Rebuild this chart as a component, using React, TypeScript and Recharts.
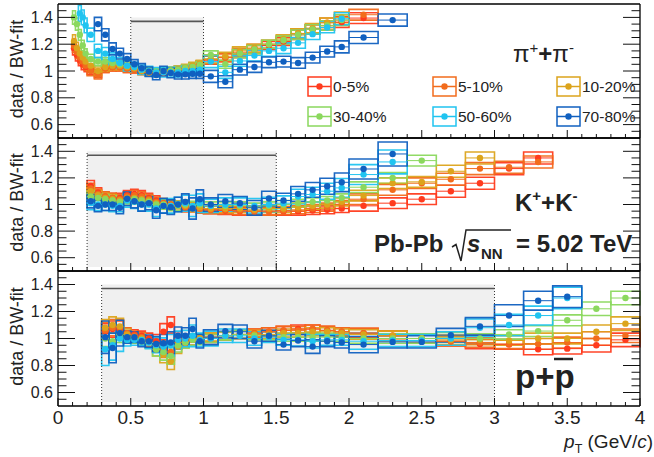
import React from "react";
import {
  ScatterChart,
  Scatter,
  XAxis,
  YAxis,
  ReferenceArea,
  ReferenceLine,
  ErrorBar,
} from "recharts";

const FONT = "'Liberation Sans', Arial, Helvetica, sans-serif";

const centralities = ["0-5%", "5-10%", "10-20%", "30-40%", "50-60%", "70-80%"];
const colors = ["#ff3b1e", "#f26c1c", "#dca41c", "#8bd85e", "#20c4f0", "#1060c0"];

const xTicks = [
  0, 0.1, 0.2, 0.3, 0.4, 0.5, 0.6, 0.7, 0.8, 0.9, 1, 1.1, 1.2, 1.3, 1.4, 1.5,
  1.6, 1.7, 1.8, 1.9, 2, 2.1, 2.2, 2.3, 2.4, 2.5, 2.6, 2.7, 2.8, 2.9, 3, 3.1,
  3.2, 3.3, 3.4, 3.5, 3.6, 3.7, 3.8, 3.9, 4,
];
const yTicks = [
  0.55, 0.6, 0.65, 0.7, 0.75, 0.8, 0.85, 0.9, 0.95, 1, 1.05, 1.1, 1.15, 1.2,
  1.25, 1.3, 1.35, 1.4, 1.45,
];

// ---- pions ----
const piEdges = [
  0.1, 0.12, 0.14, 0.16, 0.18, 0.2, 0.25, 0.3, 0.35, 0.4, 0.45, 0.5, 0.55, 0.6,
  0.65, 0.7, 0.75, 0.8, 0.85, 0.9, 0.95, 1.0, 1.1, 1.2, 1.3, 1.4, 1.5, 1.6, 1.7,
  1.8, 1.9, 2.0, 2.2, 2.4,
];
const pi0005 = [1.17, 1.12, 1.08, 1.05, 1.03, 1.01, 0.98, 1.02, 1.03, 1.03, 1.02, 1.01, 1.0, 0.99, 0.985, 0.99, 1.0, 1.01, 1.02, 1.03, 1.05, 1.08, 1.1, 1.13, 1.16, 1.19, 1.22, 1.27, 1.31, 1.34, 1.365, 1.395, null];
const pi0510 = [1.19, 1.14, 1.1, 1.07, 1.04, 1.0, 0.97, 1.02, 1.03, 1.03, 1.02, 1.01, 1.0, 0.99, 0.985, 0.99, 1.0, 1.01, 1.02, 1.035, 1.05, 1.085, 1.1, 1.14, 1.17, 1.2, 1.23, 1.28, 1.31, 1.36, 1.38, 1.42, null];
const pi1020 = [1.22, 1.17, 1.13, 1.1, 1.07, 1.04, 1.0, 1.03, 1.04, 1.04, 1.03, 1.02, 1.0, 0.99, 0.99, 0.995, 1.0, 1.01, 1.025, 1.04, 1.055, 1.09, 1.11, 1.15, 1.17, 1.2, 1.24, 1.28, 1.32, 1.36, 1.4, null, null];
const pi3040 = [1.4, 1.35, 1.27, 1.19, 1.13, 1.09, 1.07, 1.07, 1.06, 1.05, 1.04, 1.03, 1.01, 1.0, 0.995, 1.0, 1.005, 1.01, 1.02, 1.03, 1.045, 1.12, 1.05, 1.13, 1.16, 1.2, 1.23, 1.27, 1.31, 1.34, 1.38, null, null];
const pi5060 = [null, null, 1.43, 1.4, 1.34, 1.27, 1.15, 1.13, 1.09, 1.06, 1.04, 1.03, 1.01, 1.0, 0.99, 0.99, 0.99, 0.99, 1.0, 1.0, 1.01, 1.07, 0.99, 1.075, 1.115, 1.15, 1.17, 1.21, 1.275, 1.325, 1.39, null, null];
const pi7080 = [null, null, null, null, null, null, 1.35, 1.27, 1.165, 1.13, 1.09, 1.05, 1.02, 0.995, 0.97, 1.0, 0.985, 0.975, 0.975, 0.98, 0.98, 0.96, 0.92, 1.01, 1.03, 1.065, 1.07, 1.06, 1.1, 1.145, 1.18, 1.25, 1.38];
const piSysC = [0.05, 0.045, 0.04, 0.04, 0.035, 0.035, 0.03, 0.03, 0.03, 0.03, 0.03, 0.025, 0.025, 0.025, 0.025, 0.025, 0.025, 0.025, 0.025, 0.025, 0.025, 0.03, 0.03, 0.03, 0.03, 0.03, 0.03, 0.035, 0.035, 0.035, 0.04, 0.04, 0.04];
const piSysP = [0.06, 0.06, 0.06, 0.055, 0.055, 0.05, 0.05, 0.045, 0.045, 0.04, 0.04, 0.035, 0.035, 0.035, 0.035, 0.035, 0.035, 0.035, 0.035, 0.035, 0.035, 0.045, 0.045, 0.04, 0.04, 0.04, 0.04, 0.04, 0.04, 0.04, 0.045, 0.045, 0.045];

// ---- kaons ----
const kaEdges = [
  0.2, 0.25, 0.3, 0.35, 0.4, 0.45, 0.5, 0.55, 0.6, 0.65, 0.7, 0.75, 0.8, 0.85,
  0.9, 0.95, 1.0, 1.1, 1.2, 1.3, 1.4, 1.5, 1.6, 1.7, 1.8, 1.9, 2.0, 2.2, 2.4,
  2.6, 2.8, 3.0, 3.2, 3.4,
];
const ka0005 = [1.14, 1.09, 1.06, 1.05, 1.05, 1.07, 1.08, 1.07, 1.05, 1.03, 1.01, 1.0, 0.99, 0.98, 0.98, 0.97, 0.96, 0.955, 0.95, 0.95, 0.95, 0.95, 0.95, 0.955, 0.96, 0.97, 0.99, 1.01, 1.04, 1.1, 1.16, 1.27, 1.35];
const ka0510 = [1.12, 1.08, 1.06, 1.05, 1.04, 1.06, 1.07, 1.06, 1.04, 1.02, 1.01, 1.0, 0.99, 0.98, 0.98, 0.97, 0.96, 0.96, 0.955, 0.95, 0.95, 0.955, 0.96, 0.97, 0.98, 1.0, 1.04, 1.11, 1.16, 1.19, 1.27, 1.28, 1.32];
const ka1020 = [1.1, 1.07, 1.05, 1.04, 1.03, 1.05, 1.05, 1.04, 1.03, 1.01, 1.0, 0.99, 0.99, 0.99, 0.98, 0.98, 0.97, 0.97, 0.97, 0.96, 0.97, 0.97, 0.98, 0.99, 1.0, 1.02, 1.067, 1.16, 1.17, 1.25, 1.35, null, null];
const ka3040 = [1.06, 1.05, 1.04, 1.03, 1.02, 1.04, 1.04, 1.03, 1.02, 1.0, 1.0, 0.99, 0.99, 1.0, 0.99, 1.0, 0.99, 0.99, 0.99, 0.98, 0.99, 1.0, 1.01, 1.02, 1.03, 1.05, 1.13, 1.2, 1.33, null, null, null, null];
const ka5060 = [1.01, 1.0, 1.0, 0.99, 0.99, 1.03, 1.02, 1.0, 1.0, 0.97, 0.99, 0.99, 1.0, 1.01, 0.99, 1.01, 0.99, 1.0, 1.0, 0.99, 1.0, 1.01, 1.06, 1.075, 1.1, 1.125, 1.225, 1.32, null, null, null, null, null];
const ka7080 = [1.025, 0.99, 1.0, 1.0, 0.975, 1.043, 1.025, 1.0, 1.01, 0.957, 0.99, 0.98, 1.0, 1.02, 0.97, 1.04, 1.0, 1.025, 1.01, 0.975, 1.045, 1.03, 1.08, 1.11, 1.137, 1.167, 1.267, 1.38, null, null, null, null, null];
const kaSysC = [0.04, 0.035, 0.035, 0.035, 0.035, 0.035, 0.035, 0.035, 0.035, 0.035, 0.035, 0.035, 0.035, 0.035, 0.035, 0.035, 0.03, 0.03, 0.03, 0.03, 0.03, 0.03, 0.03, 0.03, 0.03, 0.03, 0.04, 0.04, 0.04, 0.045, 0.045, 0.045, 0.045];
const kaSysP = [0.05, 0.045, 0.045, 0.045, 0.045, 0.05, 0.05, 0.05, 0.05, 0.06, 0.055, 0.055, 0.055, 0.06, 0.08, 0.07, 0.05, 0.05, 0.05, 0.055, 0.055, 0.055, 0.055, 0.055, 0.06, 0.07, 0.075, 0.09, 0.06, 0.06, 0.06, 0.06, 0.06];

// ---- protons ----
const prEdges = [
  0.3, 0.35, 0.4, 0.45, 0.5, 0.55, 0.6, 0.65, 0.7, 0.75, 0.8, 0.85, 0.9, 0.95,
  1.0, 1.1, 1.2, 1.3, 1.4, 1.5, 1.6, 1.7, 1.8, 1.9, 2.0, 2.2, 2.4, 2.6, 2.8,
  3.0, 3.2, 3.4, 3.6, 3.8, 4.0,
];
const pr0005 = [1.05, 1.07, 1.07, 1.04, 1.03, 1.02, 1.0, 0.98, 1.05, 1.1, 1.0, 0.99, 0.99, 1.0, 1.0, 1.02, 1.03, 1.04, 1.05, 1.06, 1.07, 1.07, 1.06, 1.05, 1.04, 1.02, 1.0, 0.98, 0.96, 0.955, 0.92, 0.925, 0.95, 0.99];
const pr0510 = [1.06, 1.08, 1.08, 1.04, 1.02, 1.01, 0.98, 0.95, 0.92, 0.9, 0.97, 0.98, 0.99, 1.0, 1.01, 1.02, 1.03, 1.04, 1.05, 1.06, 1.06, 1.07, 1.06, 1.05, 1.04, 1.02, 1.0, 0.98, 0.97, 0.96, 0.96, 0.97, 1.0, 1.02];
const pr1020 = [1.08, 1.1, 1.09, 1.03, 1.01, 1.0, 0.97, 0.92, 0.88, 0.83, 0.94, 0.97, 0.99, 1.0, 1.01, 1.02, 1.03, 1.03, 1.03, 1.04, 1.04, 1.05, 1.05, 1.04, 1.03, 1.02, 1.0, 0.99, 0.99, 0.985, 1.0, 1.0, 1.05, 1.11];
const pr3040 = [1.0, 0.98, 1.03, 1.01, 1.0, 0.99, 0.97, 0.92, 0.9, 0.87, 0.95, 0.97, 0.99, 0.99, 1.0, 1.02, 1.03, 1.02, 1.02, 1.01, 1.01, 1.01, 1.01, 1.01, 1.0, 1.0, 1.0, 1.01, 1.0, 1.03, 1.055, 1.135, 1.22, 1.3];
const pr5060 = [0.92, 0.95, 1.0, 0.99, 0.99, 0.99, 0.97, 0.95, 0.94, 0.95, 0.99, 1.0, 1.02, 0.99, 1.0, 1.02, 1.02, 1.0, 1.01, 0.99, 0.99, 0.98, 0.99, 0.99, 0.98, 0.985, 0.985, 1.0, 1.08, 1.1, 1.17, 1.3, null, null];
const pr7080 = [1.01, 0.93, 1.04, 1.01, 1.01, 0.98, 0.98, 0.96, 0.965, 0.97, 1.02, 1.02, 1.07, 0.98, 1.01, 1.055, 1.05, 0.98, 1.02, 0.955, 0.985, 0.94, 0.98, 0.97, 0.955, 0.975, 0.975, 1.025, 1.09, 1.17, 1.28, 1.31, null, null];
const prSysC = [0.06, 0.06, 0.06, 0.04, 0.035, 0.035, 0.04, 0.05, 0.06, 0.06, 0.05, 0.04, 0.04, 0.035, 0.03, 0.03, 0.03, 0.03, 0.03, 0.03, 0.03, 0.03, 0.03, 0.03, 0.035, 0.035, 0.035, 0.035, 0.035, 0.035, 0.04, 0.04, 0.05, 0.05];
const prSysP = [0.12, 0.11, 0.095, 0.045, 0.04, 0.04, 0.045, 0.055, 0.065, 0.08, 0.065, 0.06, 0.08, 0.05, 0.055, 0.05, 0.05, 0.05, 0.04, 0.04, 0.045, 0.05, 0.04, 0.04, 0.06, 0.045, 0.045, 0.05, 0.065, 0.08, 0.07, 0.08, 0.06, 0.06];

// fit ranges (GeV/c)
const piFit = [0.5, 1.0];
const kaFit = [0.2, 1.5];
const prFit = [0.3, 3.0];

type Species = {
  edges: number[];
  series: (number | null)[][];
  sysC: number[];
  sysP: number[];
  fit: number[];
};

const species: Species[] = [
  { edges: piEdges, series: [pi0005, pi0510, pi1020, pi3040, pi5060, pi7080], sysC: piSysC, sysP: piSysP, fit: piFit },
  { edges: kaEdges, series: [ka0005, ka0510, ka1020, ka3040, ka5060, ka7080], sysC: kaSysC, sysP: kaSysP, fit: kaFit },
  { edges: prEdges, series: [pr0005, pr0510, pr1020, pr3040, pr5060, pr7080], sysC: prSysC, sysP: prSysP, fit: prFit },
];

const isStep = (v: number, per: number) => Math.abs(v * per - Math.round(v * per)) < 1e-6;

function LeftTick(props: any) {
  const { x, y, payload } = props;
  const v = payload.value;
  const major = isStep(v, 5);
  return (
    <g>
      <line x1={x} x2={x + (major ? 17 : 8.5)} y1={y} y2={y} stroke="#111" strokeWidth={1} />
      {major && (
        <text x={x - 5} y={y} textAnchor="end" dominantBaseline="central" fontSize={16} fill="#222" fontFamily={FONT}>
          {String(v)}
        </text>
      )}
    </g>
  );
}

function RightTick(props: any) {
  const { x, y, payload } = props;
  const major = isStep(payload.value, 5);
  return <line x1={x} x2={x - (major ? 17 : 8.5)} y1={y} y2={y} stroke="#111" strokeWidth={1} />;
}

function TopTick(props: any) {
  const { x, y, payload } = props;
  const major = isStep(payload.value, 2);
  return <line x1={x} x2={x} y1={y} y2={y + (major ? 8 : 4)} stroke="#111" strokeWidth={1} />;
}

function BottomTick(props: any) {
  const { x, y, payload, showLabels } = props;
  const v = payload.value;
  const major = isStep(v, 2);
  return (
    <g>
      <line x1={x} x2={x} y1={y} y2={y - (major ? 8 : 4)} stroke="#111" strokeWidth={1} />
      {showLabels && major && (
        <text x={x} y={y + 11} textAnchor="middle" dominantBaseline="central" fontSize={19} fill="#222" fontFamily={FONT}>
          {String(v)}
        </text>
      )}
    </g>
  );
}

const yTitle = (props: any) => {
  const vb = props.viewBox || {};
  const cx = 17;
  const cy = (vb.y ?? 0) + (vb.height ?? 0) / 2 - 2;
  return (
    <text x={cx} y={cy} transform={`rotate(-90 ${cx} ${cy})`} textAnchor="middle" dominantBaseline="central" fontSize={18} fill="#222" fontFamily={FONT}>
      data / BW-fit
    </text>
  );
};

function Panel({ sp, top, height, bottomAxis, showLabels }: { sp: Species; top: number; height: number; bottomAxis: number; showLabels: boolean }) {
  const bins = sp.edges.slice(0, -1).map((lo, i) => {
    const hi = sp.edges[i + 1];
    return { lo, hi, x: (lo + hi) / 2, ex: (hi - lo) / 2 };
  });
  const [f1, f2] = sp.fit;

  return (
    <div style={{ position: "absolute", left: 0, top, width: 654, height }}>
      <ScatterChart width={654} height={height} margin={{ top: 3, right: 13, bottom: 3, left: 0 }}>
        <XAxis xAxisId={0} type="number" dataKey="x" domain={[0, 4]} ticks={xTicks} interval={0} allowDataOverflow
          tick={<BottomTick showLabels={showLabels} />} tickLine={false} tickSize={0} tickMargin={0}
          axisLine={{ stroke: "#000", strokeWidth: 1.3 }} height={bottomAxis} />
        <XAxis xAxisId="t" orientation="top" type="number" domain={[0, 4]} ticks={xTicks} interval={0} allowDataOverflow
          tick={<TopTick />} tickLine={false} tickSize={0} tickMargin={0}
          axisLine={{ stroke: "#000", strokeWidth: 1.3 }} height={1} />
        <YAxis yAxisId={0} type="number" dataKey="y" domain={[0.5, 1.5]} ticks={yTicks} interval={0} allowDataOverflow
          tick={<LeftTick />} tickLine={false} tickSize={0} tickMargin={0}
          axisLine={{ stroke: "#000", strokeWidth: 1.3 }} width={58} label={yTitle} />
        <YAxis yAxisId="r" orientation="right" type="number" domain={[0.5, 1.5]} ticks={yTicks} interval={0} allowDataOverflow
          tick={<RightTick />} tickLine={false} tickSize={0} tickMargin={0}
          axisLine={{ stroke: "#000", strokeWidth: 1.3 }} width={1} />

        <ReferenceArea x1={f1} x2={f2} y1={0.53} y2={1.4} fill="#f0f0f0" fillOpacity={1} stroke="none" ifOverflow="visible" />
        <ReferenceLine segment={[{ x: f1, y: 0.5 }, { x: f1, y: 1.4 }]} stroke="#333" strokeDasharray="1 2" ifOverflow="visible" />
        <ReferenceLine segment={[{ x: f2, y: 0.5 }, { x: f2, y: 1.4 }]} stroke="#333" strokeDasharray="1 2" ifOverflow="visible" />
        <ReferenceLine segment={[{ x: f1, y: 1.37 }, { x: f2, y: 1.37 }]} stroke="#555" strokeWidth={1.6} ifOverflow="visible" />

        {sp.series.map((vals, s) =>
          bins.map((b, i) => {
            const v = vals[i];
            if (v == null) return null;
            const e = s >= 4 ? sp.sysP[i] : sp.sysC[i];
            return (
              <ReferenceArea key={`b${s}-${i}`} x1={b.lo} x2={b.hi} y1={v - e} y2={v + e}
                fill="none" stroke={colors[s]} strokeWidth={1.6} strokeOpacity={0.95} ifOverflow="visible" />
            );
          })
        )}

        {sp.series.map((vals, s) => {
          const pts = bins
            .map((b, i) => (vals[i] == null ? null : { x: b.x, y: vals[i], ex: b.ex }))
            .filter(Boolean) as { x: number; y: number; ex: number }[];
          return (
            <Scatter key={`s${s}`} name={centralities[s]} data={pts} fill={colors[s]} isAnimationActive={false}
              shape={(p: any) => <circle cx={p.cx} cy={p.cy} r={3.2} fill={colors[s]} />}>
              <ErrorBar dataKey="ex" direction="x" width={0} stroke={colors[s]} strokeWidth={1} isAnimationActive={false} />
            </Scatter>
          );
        })}
      </ScatterChart>
    </div>
  );
}

function Overlay() {
  const legX = [308, 433, 557];
  const legY = [86.5, 116.5];
  return (
    <svg width={654} height={457} style={{ position: "absolute", left: 0, top: 0, pointerEvents: "none" }} fontFamily={FONT}>
      {centralities.map((c, i) => {
        const mx = legX[i % 3];
        const my = legY[Math.floor(i / 3)];
        return (
          <g key={c}>
            <rect x={mx} y={my - 9.5} width={23} height={19} fill="none" stroke={colors[i]} strokeWidth={1.5} />
            <line x1={mx} x2={mx + 23} y1={my} y2={my} stroke={colors[i]} strokeWidth={1.5} />
            <circle cx={mx + 11.5} cy={my} r={3.2} fill={colors[i]} />
            <text x={mx + 25} y={my} dominantBaseline="central" fontSize={15.5} fill="#222">{c}</text>
          </g>
        );
      })}

      <text x={513} y={62} fontSize={24} fill="#222">
        π<tspan fontSize={15} dy={-9}>+</tspan>
        <tspan dy={9} fontWeight="bold">+</tspan>π<tspan fontSize={15} dy={-9}>-</tspan>
      </text>

      <text x={515} y={211} fontSize={24} fontWeight="bold" fill="#222">
        K<tspan fontSize={15} dy={-10}>+</tspan>
        <tspan dy={10}>+</tspan>K<tspan fontSize={15} dy={-10}>-</tspan>
      </text>

      <text x={374} y={252} fontSize={24} fontWeight="bold" fill="#222">Pb-Pb</text>
      <path d="M452,247 L456,244.5 L461,261 L466,230 L511,230" fill="none" stroke="#222" strokeWidth={1.5} />
      <text x={467} y={252} fontSize={24} fontWeight="bold" fontStyle="italic" fill="#222">s</text>
      <text x={481} y={259} fontSize={15} fontWeight="bold" fill="#222">NN</text>
      <text x={516} y={252} fontSize={24} fontWeight="bold" fill="#222">= 5.02 TeV</text>

      <text x={515} y={388} fontSize={33} fontWeight="bold" fill="#222">p+p</text>
      <line x1={554} x2={573} y1={359} y2={359} stroke="#222" strokeWidth={2.5} />

      <text x={653} y={448} fontSize={19} fill="#222" textAnchor="end">
        <tspan fontStyle="italic">p</tspan>
        <tspan fontSize={12.5} dy={5}>T</tspan>
        <tspan dy={-5}> (GeV/</tspan>
        <tspan fontStyle="italic">c</tspan>
        <tspan>)</tspan>
      </text>
    </svg>
  );
}

export default function App() {
  return (
    <div style={{ position: "absolute", left: 0, top: 0, width: 654, height: 457, background: "#fff", fontFamily: FONT }}>
      <Panel sp={species[0]} top={0} height={142} bottomAxis={1} showLabels={false} />
      <Panel sp={species[1]} top={134} height={141} bottomAxis={1} showLabels={false} />
      <Panel sp={species[2]} top={267} height={190} bottomAxis={48} showLabels={true} />
      <Overlay />
    </div>
  );
}
